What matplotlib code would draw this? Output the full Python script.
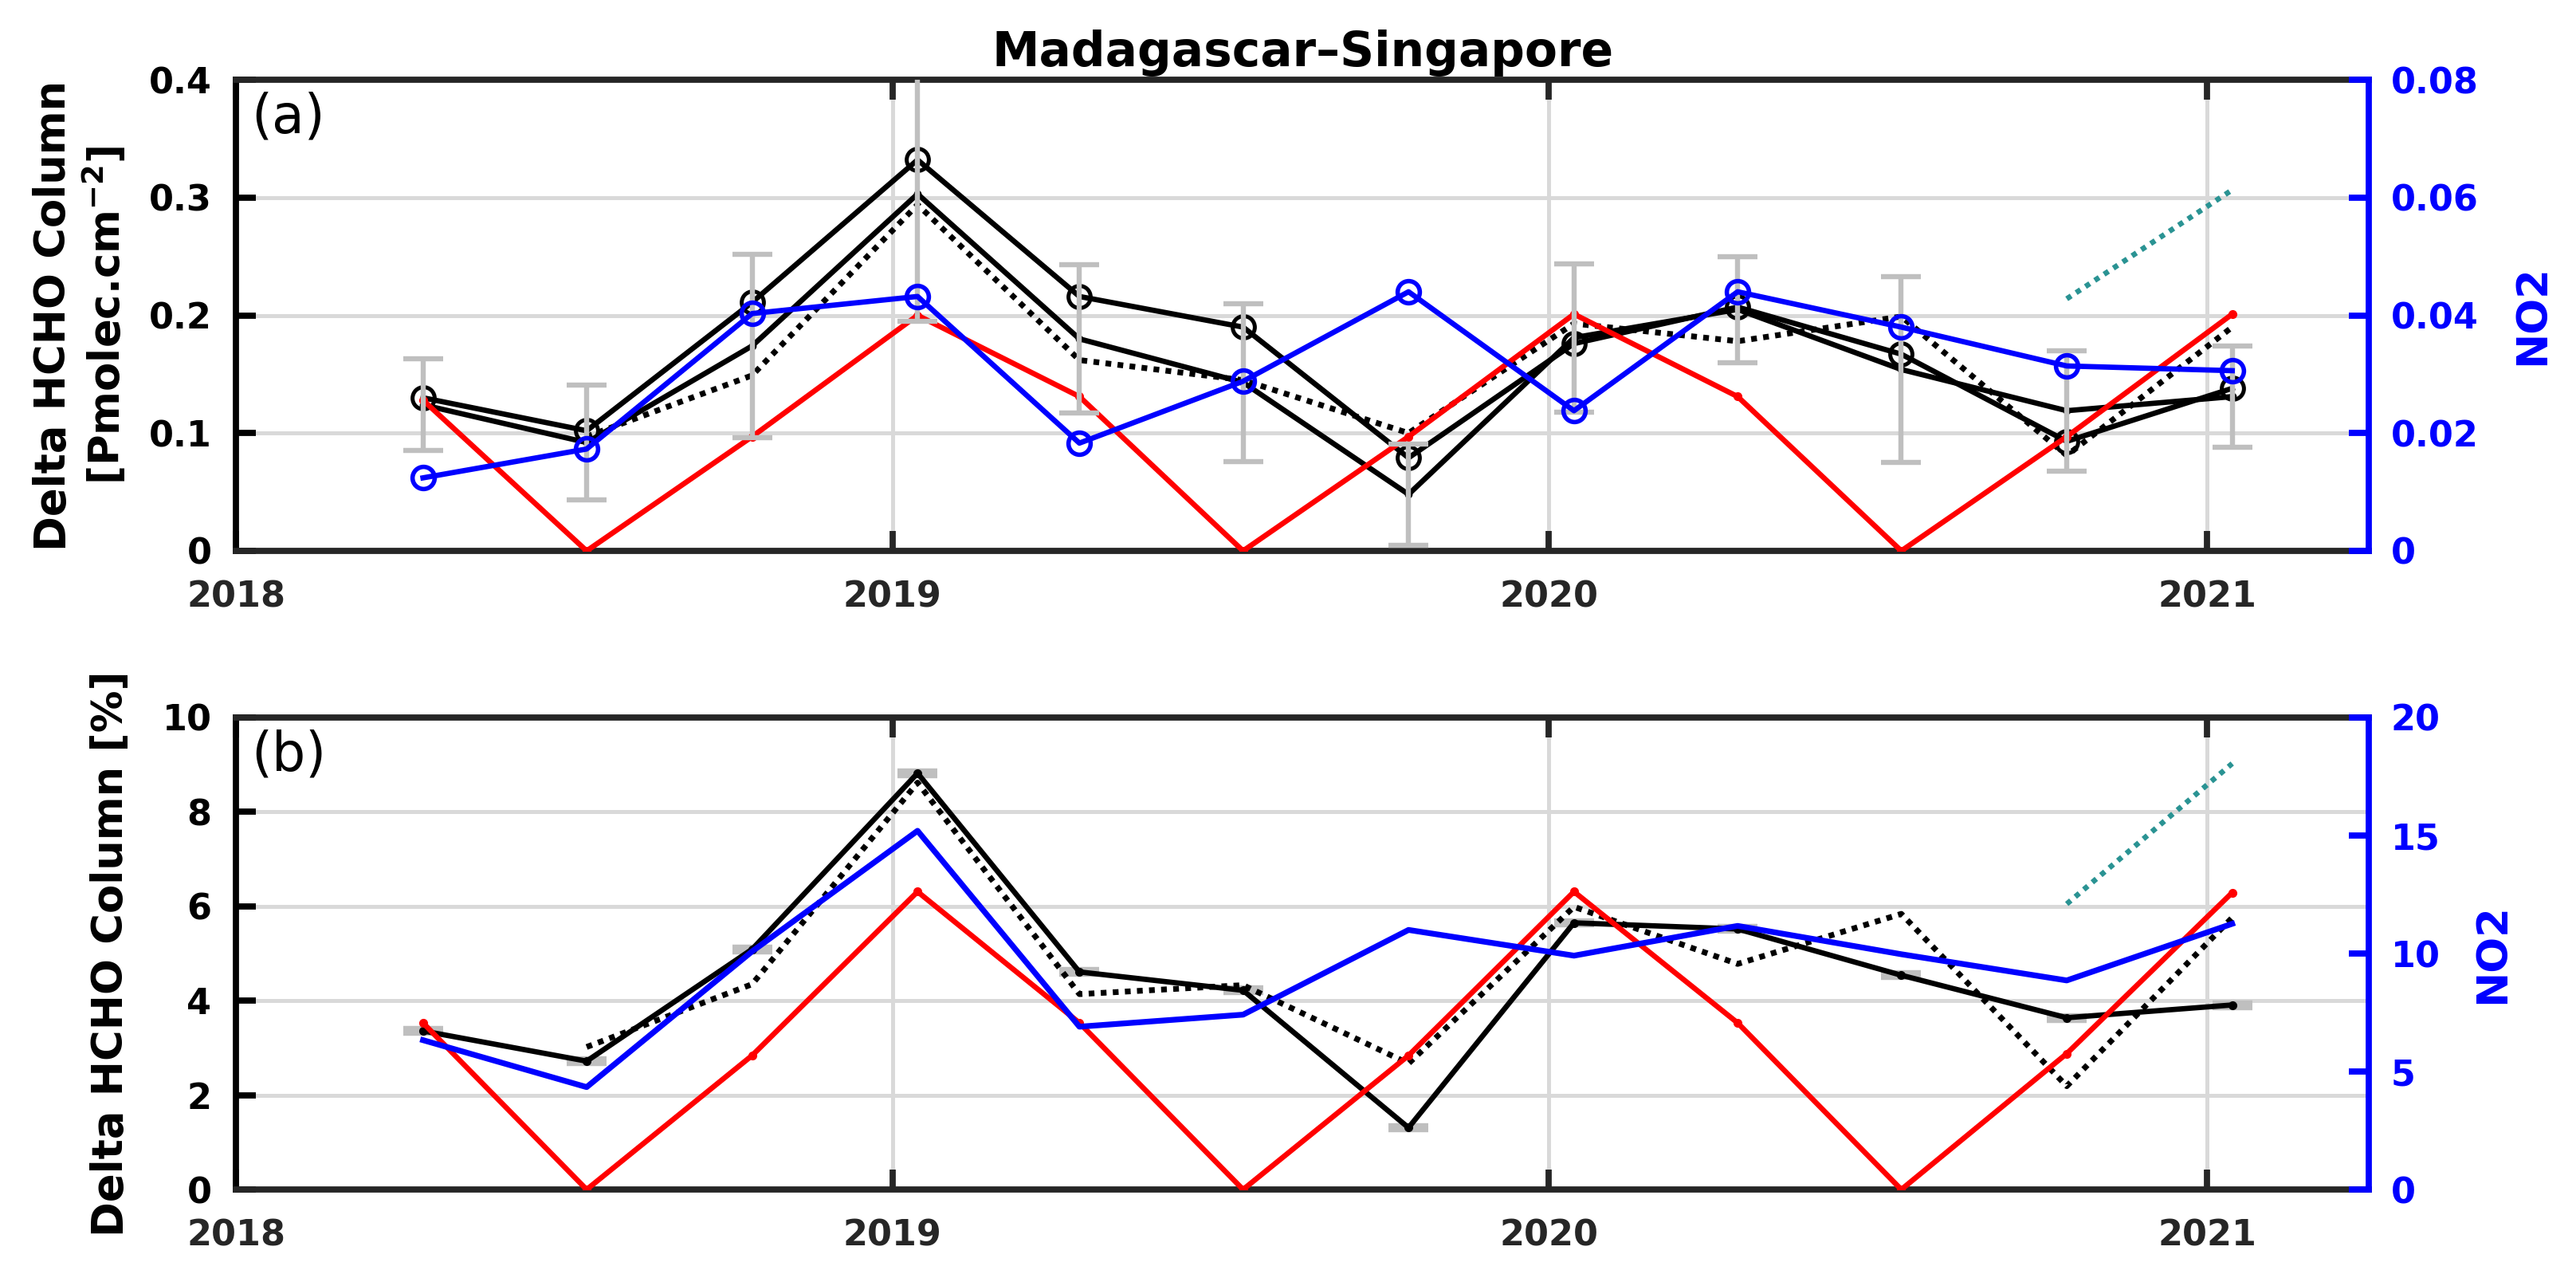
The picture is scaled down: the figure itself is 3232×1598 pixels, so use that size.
import numpy as np
import matplotlib.pyplot as plt
from matplotlib.ticker import FormatStrFormatter

plt.rcParams['font.family'] = ['DejaVu Sans']
plt.rcParams['font.weight'] = 'bold'

# quarterly sample dates
dates = np.array(['2018-04-15', '2018-07-15', '2018-10-15', '2019-01-15',
                  '2019-04-15', '2019-07-15', '2019-10-15', '2020-01-15',
                  '2020-04-15', '2020-07-15', '2020-10-15', '2021-01-15'],
                 dtype='datetime64[D]')
year_ticks = np.array(['2018-01-01', '2019-01-01', '2020-01-01', '2021-01-01'],
                      dtype='datetime64[D]')
year_labels = ['2018', '2019', '2020', '2021']
x_range = np.array(['2018-01-01', '2021-04-01'], dtype='datetime64[D]')

nan = np.nan

# panel (a): absolute columns
hcho_circ_a = [0.130, 0.102, 0.211, 0.332, 0.216, 0.190, 0.079, 0.176, 0.207, 0.167, 0.093, 0.138]
hcho_mean_a = [0.124, 0.092, 0.174, 0.303, 0.180, 0.143, 0.048, 0.181, 0.205, 0.154, 0.119, 0.131]
hcho_err_a = [0.039, 0.049, 0.078, 0.108, 0.063, 0.067, 0.043, 0.063, 0.045, 0.079, 0.051, 0.043]
hcho_dot_a = [nan, 0.097, 0.149, 0.294, 0.162, 0.145, 0.100, 0.193, 0.178, 0.199, 0.081, 0.190]
red_a = [0.128, 0.0, 0.097, 0.200, 0.131, 0.0, 0.097, 0.201, 0.131, 0.0, 0.097, 0.201]
no2_a = [0.0124, 0.0173, 0.0403, 0.0432, 0.0183, 0.0288, 0.0440, 0.0238, 0.0440, 0.0380, 0.0314, 0.0306]
trend_a = [0.0428, 0.0613]

# panel (b): relative columns [%]
hcho_b = [3.36, 2.72, 5.09, 8.82, 4.61, 4.22, 1.31, 5.65, 5.52, 4.54, 3.64, 3.91]
hcho_err_b = [0.05] * 12
hcho_dot_b = [nan, 3.02, 4.35, 8.62, 4.14, 4.33, 2.67, 5.99, 4.78, 5.84, 2.19, 5.76]
red_b = [3.53, 0.0, 2.84, 6.31, 3.53, 0.0, 2.84, 6.31, 3.53, 0.0, 2.88, 6.29]
no2_b = [6.33, 4.34, 10.09, 15.2, 6.90, 7.41, 11.0, 9.91, 11.17, 9.97, 8.86, 11.26]
trend_b = [12.1, 18.05]

GRID = '#d9d9d9'
ERR = '#bfbfbf'
TEAL = '#2a9393'
DOTS = (0, (1, 1.1))
LW = 2.4


def setup_panel(ax, ax2, yticks, yticks2, ylabel, tag, lpad, rpad):
    ax.set_xlim(x_range[0], x_range[1])
    ax.set_xticks(year_ticks)
    ax.set_xticklabels(year_labels)
    ax.set_ylim(yticks[0], yticks[-1])
    ax.set_yticks(yticks)
    ax.yaxis.set_major_formatter(FormatStrFormatter('%g'))
    ax2.set_ylim(yticks2[0], yticks2[-1])
    ax2.set_yticks(yticks2)
    ax2.yaxis.set_major_formatter(FormatStrFormatter('%g'))

    ax.grid(True, color=GRID, linewidth=1.8)
    ax.set_axisbelow(True)
    ax.tick_params(axis='x', direction='in', top=True, length=9, width=2.8,
                   color='#262626', labelcolor='#262626', labelsize=16, pad=13)
    ax.tick_params(axis='y', direction='in', right=False, length=9, width=2.8,
                   color='black', labelcolor='black', labelsize=16, pad=11)
    ax2.tick_params(axis='y', direction='in', length=9, width=2.8,
                    color='blue', labelcolor='blue', labelsize=16, pad=10)

    for s in ['top', 'bottom']:
        ax.spines[s].set_color('#262626')
        ax.spines[s].set_linewidth(2.8)
    ax.spines['left'].set_color('black')
    ax.spines['left'].set_linewidth(2.8)
    ax.spines['right'].set_visible(False)
    for s in ['left', 'top', 'bottom']:
        ax2.spines[s].set_visible(False)
    ax2.spines['right'].set_color('blue')
    ax2.spines['right'].set_linewidth(2.8)

    ax.set_ylabel(ylabel, fontsize=19, fontweight='bold', labelpad=lpad)
    ax2.set_ylabel('NO2', fontsize=19, fontweight='bold', color='blue', labelpad=rpad)
    ax.text(0.007, 0.975, tag, transform=ax.transAxes, fontsize=24,
            fontweight='normal', va='top', ha='left')


fig = plt.figure(figsize=(16.16, 7.99), dpi=200)

# ---- panel (a)
ax1 = fig.add_axes([0.0916, 0.5676, 0.828, 0.3698])
ax1b = ax1.twinx()
ax1.plot(dates, hcho_circ_a, color='black', lw=LW, marker='o', ms=10,
         mfc='none', mec='black', mew=1.8, zorder=3)
ax1.plot(dates, hcho_mean_a, color='black', lw=LW, marker='.', ms=5, zorder=3)
ax1.plot(dates, hcho_dot_a, color='black', lw=2.6, linestyle=DOTS, zorder=3)
ax1.plot(dates, red_a, color='red', lw=LW, marker='.', ms=6, zorder=4)
ax1.errorbar(dates, hcho_mean_a, yerr=hcho_err_a, fmt='none', ecolor=ERR,
             elinewidth=2.3, capsize=9, capthick=2.3, zorder=5)
ax1b.plot(dates, no2_a, color='blue', lw=LW, marker='o', ms=10,
          mfc='none', mec='blue', mew=2.0)
ax1b.plot(dates[-2:], trend_a, color=TEAL, lw=2.4, linestyle=DOTS)
setup_panel(ax1, ax1b, [0, 0.1, 0.2, 0.3, 0.4], [0, 0.02, 0.04, 0.06, 0.08],
            'Delta HCHO Column\n[Pmolec.cm$^{\\mathbf{-2}}$]', '(a)', 9, 15)
ax1.set_title('Madagascar\u2013Singapore', fontsize=21.5, fontweight='bold', pad=6)

# ---- panel (b)
ax2 = fig.add_axes([0.0916, 0.0663, 0.828, 0.3705])
ax2b = ax2.twinx()
ax2.errorbar(dates, hcho_b, yerr=hcho_err_b, fmt='none', ecolor=ERR,
             elinewidth=2.3, capsize=9, capthick=2.3, zorder=2)
ax2.plot(dates, hcho_b, color='black', lw=LW, marker='.', ms=6, zorder=3)
ax2.plot(dates, hcho_dot_b, color='black', lw=2.6, linestyle=DOTS, zorder=3)
ax2.plot(dates, red_b, color='red', lw=LW, marker='.', ms=6, zorder=4)
ax2b.plot(dates, no2_b, color='blue', lw=2.6)
ax2b.plot(dates[-2:], trend_b, color=TEAL, lw=2.4, linestyle=DOTS)
setup_panel(ax2, ax2b, [0, 2, 4, 6, 8, 10], [0, 5, 10, 15, 20],
            'Delta HCHO Column [%]', '(b)', 14, 14)

fig.savefig('out.png', dpi=200)
